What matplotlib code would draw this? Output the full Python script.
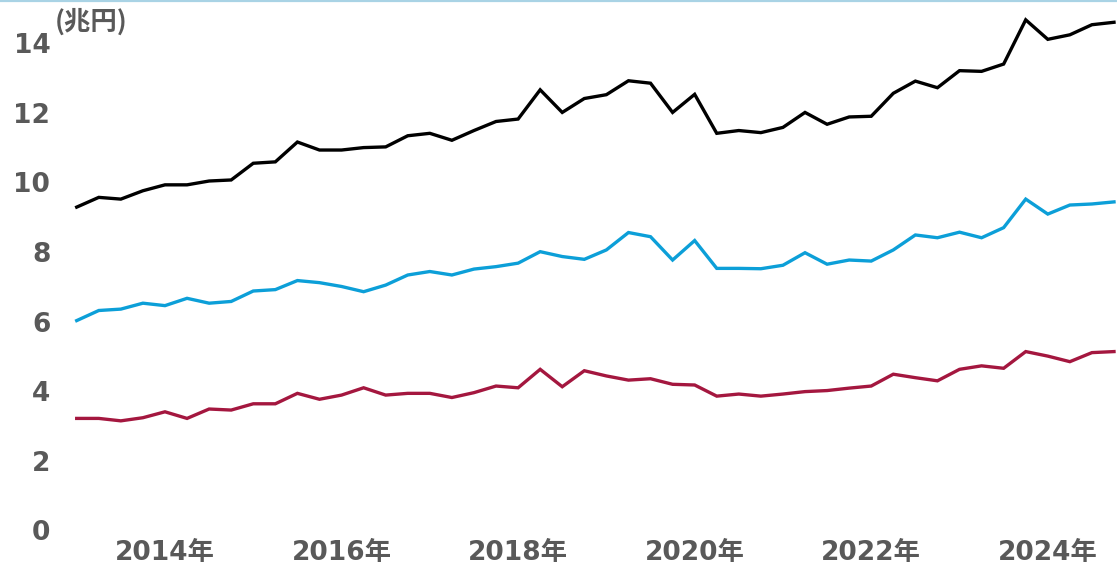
import matplotlib
matplotlib.use("Agg")
import matplotlib.pyplot as plt
from matplotlib.lines import Line2D
import numpy as np

plt.rcParams['font.family'] = ['DejaVu Sans', 'Noto Sans CJK JP']

# 四半期データ (2013年1Q 〜 2024年4Q), 単位: 兆円
total = [9.29, 9.57, 9.52, 9.76, 9.93, 9.93, 10.04, 10.07, 10.55, 10.59,
         11.16, 10.93, 10.93, 11.00, 11.02, 11.34, 11.41, 11.21, 11.49, 11.75,
         11.82, 12.66, 12.01, 12.41, 12.52, 12.92, 12.85, 12.01, 12.53, 11.41,
         11.49, 11.43, 11.58, 12.01, 11.67, 11.88, 11.90, 12.56, 12.91, 12.72,
         13.21, 13.19, 13.40, 14.67, 14.11, 14.24, 14.53, 14.60]
blue_series = [6.03, 6.32, 6.36, 6.53, 6.46, 6.67, 6.53, 6.58, 6.88, 6.92,
               7.18, 7.12, 7.01, 6.86, 7.05, 7.34, 7.44, 7.34, 7.51, 7.58,
               7.68, 8.01, 7.87, 7.79, 8.06, 8.56, 8.44, 7.77, 8.33, 7.53,
               7.53, 7.52, 7.62, 7.98, 7.65, 7.77, 7.74, 8.06, 8.49, 8.41,
               8.57, 8.41, 8.70, 9.52, 9.09, 9.35, 9.38, 9.44]
red_series = [3.22, 3.22, 3.15, 3.24, 3.41, 3.22, 3.49, 3.46, 3.64, 3.64,
              3.94, 3.77, 3.89, 4.10, 3.89, 3.94, 3.94, 3.82, 3.96, 4.15,
              4.10, 4.63, 4.13, 4.59, 4.44, 4.32, 4.36, 4.20, 4.18, 3.86,
              3.92, 3.86, 3.92, 3.99, 4.02, 4.09, 4.15, 4.49, 4.39, 4.30,
              4.63, 4.73, 4.66, 5.14, 5.01, 4.85, 5.11, 5.14]
year_ticks = [4, 12, 20, 28, 36, 44]
year_labels = ['2014年', '2016年', '2018年', '2020年', '2022年', '2024年']
y_ticks = [0, 2, 4, 6, 8, 10, 12, 14]

text_color = '#595959'

fig = plt.figure(figsize=(11.17, 5.70), dpi=100)
ax = fig.add_axes([76.7 / 1117, 39.5 / 570, 1037.3 / 1117, 530.5 / 570])

x = np.arange(len(total))
ax.plot(x, total, color='#000000', lw=2.4, clip_on=False, solid_joinstyle='miter')
ax.plot(x, blue_series, color='#0C9FD8', lw=2.4, clip_on=False, solid_joinstyle='miter')
ax.plot(x, red_series, color='#A4173F', lw=2.4, clip_on=False, solid_joinstyle='miter')

ax.set_xlim(0, len(total) - 1)
ax.set_ylim(0, 15.24)
ax.set_yticks(y_ticks)
ax.set_yticklabels([str(v) for v in y_ticks])
ax.set_xticks(year_ticks)
ax.set_xticklabels(year_labels)

for s in ax.spines.values():
    s.set_visible(False)
ax.tick_params(axis='y', length=0, pad=19, labelsize=19, labelcolor=text_color)
ax.tick_params(axis='x', length=0, pad=7, labelsize=19, labelcolor=text_color)
for lab in ax.get_xticklabels() + ax.get_yticklabels():
    lab.set_fontweight('bold')

fig.text(55 / 1117, 1 - 22 / 570, '(兆円)', fontsize=19, fontweight='bold',
         color=text_color, va='center', ha='left',
         family=['Noto Sans CJK JP', 'DejaVu Sans'])

# 上端の薄い枠線
fig.add_artist(Line2D([0, 1], [1 - 1 / 570, 1 - 1 / 570], transform=fig.transFigure,
                      color='#A9D3E5', lw=1.6))

fig.savefig('out.png', dpi=100)
